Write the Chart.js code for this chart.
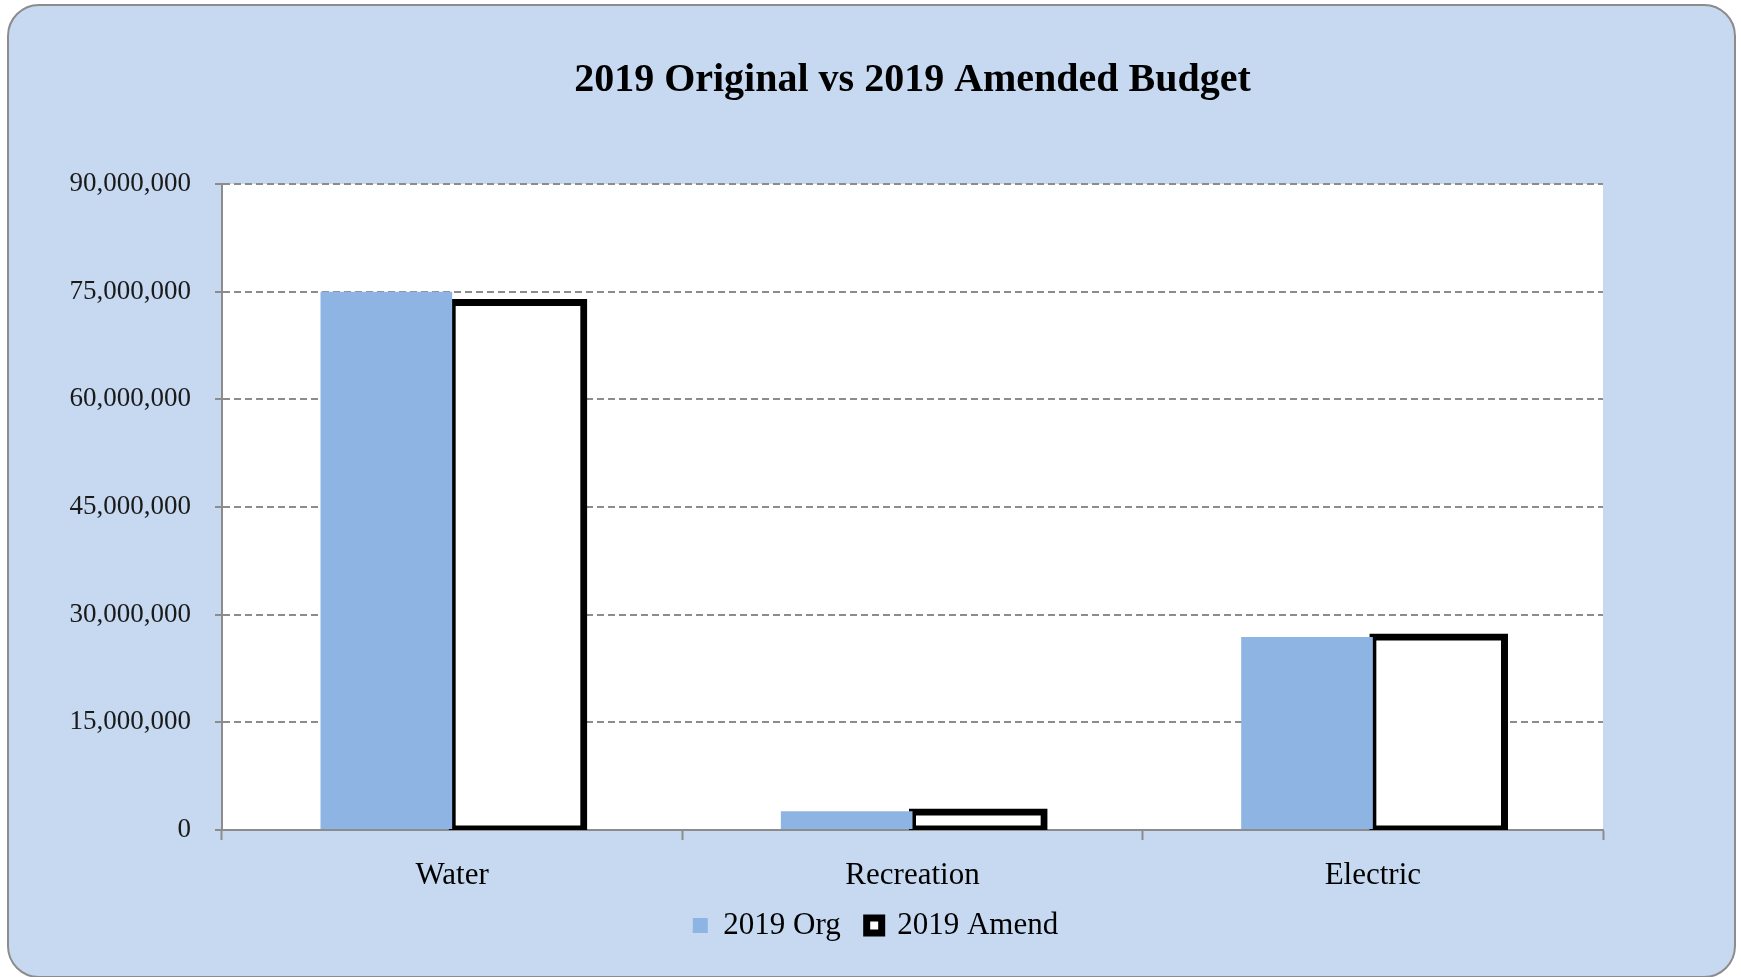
<!DOCTYPE html>
<html>
<head>
<meta charset="utf-8">
<script src="https://cdn.jsdelivr.net/npm/chart.js@4.4.1/dist/chart.umd.min.js"></script>
<style>
  html, body { margin: 0; padding: 0; background: #ffffff; }
  #card {
    position: absolute; left: 7px; top: 4px; width: 1725px; height: 970px;
    background: #c6d9f0; border: 2px solid #8c8c8c; border-radius: 32px;
  }
  #wrap { position: absolute; left: 0; top: 0; width: 1741px; height: 977px; }
</style>
</head>
<body>
<div id="card"></div>
<div id="wrap"><canvas id="budgetChart"></canvas></div>
<script>
// Categorias e valores
const categories = ['Water', 'Recreation', 'Electric'];
const orgValues = [75000000, 2600000, 26900000];
const amendValues = [73500000, 2500000, 26900000];
const yTicks = [0, 15000000, 30000000, 45000000, 60000000, 75000000, 90000000];

const SERIF = '"Liberation Serif", "DejaVu Serif", serif';

// Fundo branco da área do gráfico
const plotBackground = {
    id: 'plotBackground',
    beforeDraw(chart) {
        const { ctx, chartArea } = chart;
        ctx.save();
        ctx.fillStyle = '#ffffff';
        ctx.fillRect(chartArea.left, chartArea.top, chartArea.right - chartArea.left, chartArea.bottom - chartArea.top);
        ctx.restore();
    }
};

const ctx = document.getElementById('budgetChart').getContext('2d');
new Chart(ctx, {
    type: 'bar',
    data: {
        labels: categories,
        datasets: [
            {
                label: '2019 Org',
                data: orgValues,
                backgroundColor: '#8eb4e3',
                borderWidth: 0,
                categoryPercentage: 0.572,
                barPercentage: 1.0
            },
            {
                label: '2019 Amend',
                data: amendValues,
                backgroundColor: '#ffffff',
                borderColor: '#000000',
                borderWidth: 7,
                borderSkipped: false,
                inflateAmount: 3.5,
                categoryPercentage: 0.572,
                barPercentage: 1.0
            }
        ]
    },
    options: {
        responsive: true,
        maintainAspectRatio: false,
        animation: false,
        layout: { padding: { left: 10, right: 0, top: 0, bottom: 26 } },
        plugins: {
            title: {
                display: true,
                text: '2019 Original vs 2019 Amended Budget',
                fullSize: false,
                color: '#000000',
                font: { family: SERIF, size: 40, weight: 'bold' },
                padding: { top: 57, bottom: 79 }
            },
            legend: {
                position: 'bottom',
                labels: {
                    color: '#000000',
                    font: { family: SERIF, size: 31 },
                    boxWidth: 15,
                    boxHeight: 15,
                    padding: 26
                }
            },
            tooltip: { enabled: false }
        },
        scales: {
            x: {
                offset: true,
                grid: {
                    offset: true,
                    drawOnChartArea: false,
                    drawTicks: true,
                    tickLength: 10,
                    tickWidth: 2,
                    tickColor: '#8c8c8c'
                },
                border: { display: true, color: '#8c8c8c', width: 2 },
                ticks: {
                    color: '#000000',
                    font: { family: SERIF, size: 31 },
                    padding: 17
                },
                afterFit(scale) { scale.height = 54; }
            },
            y: {
                min: 0,
                max: 90000000,
                afterBuildTicks(scale) { scale.ticks = yTicks.map(v => ({ value: v })); },
                grid: {
                    color: '#8c8c8c',
                    lineWidth: 2,
                    tickLength: 7,
                    tickColor: '#8c8c8c',
                    tickWidth: 2,
                    tickBorderDash: [7, 4]
                },
                border: { display: true, color: '#8c8c8c', width: 2, dash: [7, 4] },
                ticks: {
                    color: '#1a1a1a',
                    font: { family: SERIF, size: 27 },
                    padding: 24,
                    callback: v => Number(v).toLocaleString('en-US')
                },
                afterFit(scale) { scale.width = 212; }
            },
            yRight: {
                position: 'right',
                display: true,
                grid: { display: false, drawTicks: false },
                border: { display: false },
                ticks: { display: false },
                afterFit(scale) { scale.width = 138; }
            }
        }
    },
    plugins: [plotBackground]
});
</script>
</body>
</html>
